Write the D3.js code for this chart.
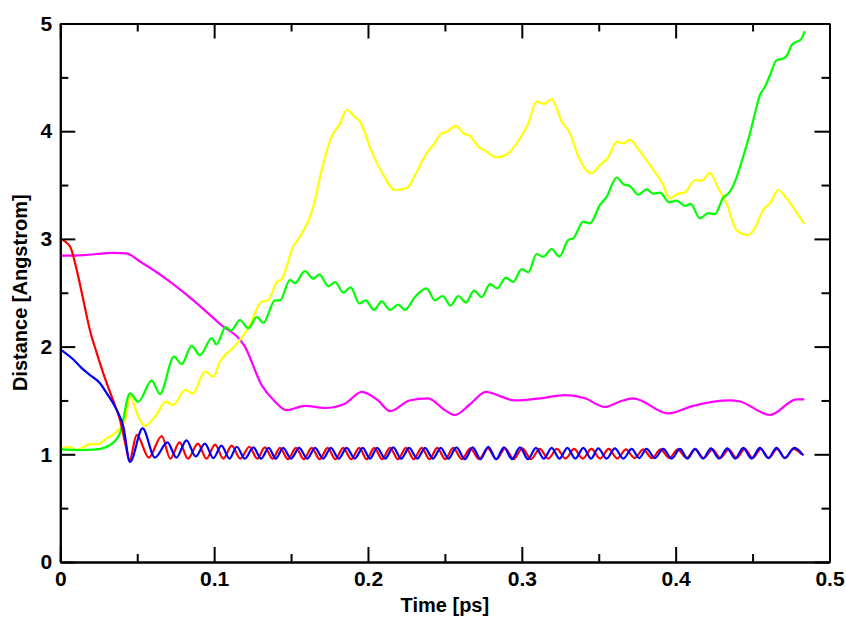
<!DOCTYPE html>
<html>
<head>
<meta charset="utf-8">
<script src="https://cdn.jsdelivr.net/npm/d3@7"></script>
<style>
  body { margin: 0; background: #fff; }
  svg { display: block; }
  text { font-family: "Liberation Sans", Arial, Helvetica, sans-serif; font-weight: bold; }
</style>
</head>
<body>
<script>
// tick values
var xMajor = [0, 0.1, 0.2, 0.3, 0.4, 0.5];
var xMinor = [0.05, 0.15, 0.25, 0.35, 0.45];
var yMajor = [0, 1, 2, 3, 4, 5];
var yMinor = [0.5, 1.5, 2.5, 3.5, 4.5];
var xTitle = "Time [ps]";
var yTitle = "Distance [Angstrom]";

// series: [time (ps), distance (Angstrom)]
var redSeries = [
  [0, 3.0], [0.0063, 2.93], [0.0107, 2.71], [0.015, 2.43], [0.0193, 2.15], [0.0237, 1.94],
  [0.028, 1.75], [0.0334, 1.535], [0.0388, 1.32], [0.0427, 1.07], [0.0449, 0.94],
  [0.0497, 1.18], [0.0575, 0.97], [0.0659, 1.17], [0.0715, 0.96], [0.0775, 1.11], [0.083, 0.96],
  [0.0895, 1.10], [0.095, 0.96], [0.1006, 1.09], [0.106, 0.96], [0.1114, 1.08], [0.117, 0.96],
  [0.1229, 1.07], [0.128, 0.96], [0.133, 1.065], [0.138, 0.96], [0.1428, 1.06], [0.148, 0.955],
  [0.1532, 1.06], [0.1583, 0.955], [0.1634, 1.06], [0.1686, 0.955], [0.1738, 1.06], [0.1788, 0.955],
  [0.1839, 1.06], [0.1891, 0.955], [0.1943, 1.06], [0.1992, 0.955], [0.2041, 1.06], [0.2092, 0.955],
  [0.2143, 1.06], [0.2195, 0.955], [0.2247, 1.06], [0.2298, 0.955], [0.2349, 1.06], [0.24, 0.955],
  [0.245, 1.06], [0.2502, 0.955], [0.2554, 1.06], [0.261, 0.955], [0.2666, 1.055], [0.2722, 0.955],
  [0.2779, 1.055], [0.2835, 0.955], [0.2891, 1.055], [0.2947, 0.955], [0.3003, 1.055], [0.306, 0.955],
  [0.3116, 1.05], [0.3172, 0.96], [0.3228, 1.05], [0.3284, 0.96], [0.334, 1.05], [0.3396, 0.96],
  [0.3452, 1.05], [0.3509, 0.96], [0.3565, 1.05], [0.3621, 0.96], [0.3677, 1.045], [0.3733, 0.965],
  [0.3789, 1.045], [0.3846, 0.965], [0.3902, 1.045], [0.3958, 0.965], [0.4014, 1.045], [0.407, 0.965],
  [0.4126, 1.045], [0.4183, 0.965], [0.4239, 1.045], [0.4291, 0.965], [0.4344, 1.045], [0.4396, 0.965],
  [0.4449, 1.05], [0.4501, 0.965], [0.4554, 1.05], [0.4606, 0.965], [0.4659, 1.05], [0.4711, 0.965],
  [0.4764, 1.05], [0.4819, 1.0]
];
var blueSeries = [
  [0, 1.975], [0.0085, 1.88], [0.0139, 1.80], [0.0193, 1.736], [0.0258, 1.66], [0.0302, 1.566],
  [0.0367, 1.41], [0.041, 1.256], [0.0453, 0.93],
  [0.0535, 1.24], [0.0615, 0.97], [0.0696, 1.11], [0.0755, 0.97], [0.082, 1.13], [0.088, 0.98],
  [0.094, 1.10], [0.0995, 0.965], [0.1047, 1.08], [0.11, 0.96], [0.1147, 1.07], [0.12, 0.96],
  [0.1255, 1.065], [0.1305, 0.96], [0.1355, 1.06], [0.14, 0.96], [0.1449, 1.06], [0.15, 0.96],
  [0.1553, 1.06], [0.1605, 0.96], [0.1656, 1.06], [0.1708, 0.96], [0.1759, 1.06], [0.181, 0.96],
  [0.1862, 1.06], [0.1914, 0.96], [0.1966, 1.06], [0.2013, 0.96], [0.206, 1.06], [0.2112, 0.96],
  [0.2164, 1.065], [0.2216, 0.96], [0.2268, 1.06], [0.232, 0.96], [0.2371, 1.06], [0.2422, 0.96],
  [0.2473, 1.06], [0.2523, 0.96], [0.2575, 1.065], [0.263, 0.955], [0.2681, 1.065], [0.2732, 0.955],
  [0.2782, 1.07], [0.2833, 0.955], [0.2884, 1.065], [0.2936, 0.955], [0.2988, 1.065], [0.304, 0.955],
  [0.3092, 1.06], [0.3143, 0.96], [0.3194, 1.06], [0.3245, 0.96], [0.3296, 1.06], [0.3348, 0.96],
  [0.34, 1.06], [0.345, 0.96], [0.3497, 1.055], [0.3551, 0.96], [0.3605, 1.055], [0.366, 0.96],
  [0.3714, 1.05], [0.3763, 0.965], [0.3811, 1.05], [0.3865, 0.965], [0.3919, 1.05], [0.3974, 0.96],
  [0.4028, 1.05], [0.4077, 0.96], [0.4126, 1.05], [0.4178, 0.96], [0.4229, 1.055], [0.4282, 0.96],
  [0.4335, 1.055], [0.4387, 0.96], [0.4439, 1.06], [0.4493, 0.96], [0.4548, 1.06], [0.4602, 0.965],
  [0.4656, 1.06], [0.471, 0.965], [0.4772, 1.06], [0.483, 0.99]
];
var magentaSeries = [
  [0, 2.845], [0.015, 2.85], [0.0345, 2.87], [0.043, 2.865], [0.0518, 2.79], [0.0692, 2.625],
  [0.0865, 2.43], [0.1038, 2.21], [0.12, 2.0], [0.131, 1.64], [0.1395, 1.49], [0.147, 1.41],
  [0.159, 1.45], [0.172, 1.43], [0.185, 1.47], [0.196, 1.58], [0.2065, 1.50], [0.2145, 1.40],
  [0.227, 1.50], [0.239, 1.52], [0.25, 1.41], [0.2565, 1.365], [0.266, 1.46], [0.2767, 1.58],
  [0.2858, 1.54], [0.2955, 1.50], [0.312, 1.52], [0.328, 1.55], [0.341, 1.52], [0.354, 1.44],
  [0.3638, 1.49], [0.3724, 1.52], [0.3952, 1.38], [0.4114, 1.45], [0.4353, 1.50], [0.4418, 1.49],
  [0.4613, 1.365], [0.4786, 1.51], [0.4836, 1.51]
];
var greenSeries = [
  [0, 1.046], [0.0128, 1.04], [0.0237, 1.046], [0.0323, 1.086], [0.0388, 1.195], [0.0453, 1.566],
  [0.0507, 1.488], [0.0594, 1.684], [0.0648, 1.56], [0.0739, 1.906], [0.0789, 1.838], [0.0854, 2.006],
  [0.0908, 1.92], [0.0985, 2.08], [0.1015, 2.02], [0.1075, 2.18], [0.111, 2.15], [0.1168, 2.247],
  [0.1222, 2.17], [0.1277, 2.275], [0.132, 2.22], [0.1395, 2.43], [0.1428, 2.43], [0.1493, 2.62],
  [0.1525, 2.59], [0.159, 2.70], [0.1645, 2.63], [0.1684, 2.67], [0.1742, 2.56], [0.1786, 2.60],
  [0.184, 2.50], [0.1888, 2.55], [0.1944, 2.40], [0.1985, 2.43], [0.2039, 2.34], [0.2089, 2.42],
  [0.2143, 2.34], [0.2197, 2.39], [0.224, 2.34], [0.2305, 2.46], [0.2381, 2.54], [0.2435, 2.43],
  [0.2485, 2.47], [0.2537, 2.38], [0.2587, 2.47], [0.2637, 2.41], [0.2689, 2.52], [0.2739, 2.46],
  [0.2793, 2.58], [0.284, 2.54], [0.2897, 2.64], [0.2944, 2.60], [0.2999, 2.72], [0.3042, 2.69],
  [0.3096, 2.86], [0.3139, 2.835], [0.3194, 2.906], [0.3244, 2.835], [0.3302, 2.99], [0.3334, 3.005],
  [0.34, 3.16], [0.3443, 3.145], [0.3508, 3.315], [0.3551, 3.39], [0.3616, 3.57], [0.3659, 3.51],
  [0.3703, 3.49], [0.3757, 3.41], [0.3811, 3.46], [0.3855, 3.42], [0.3898, 3.43], [0.3958, 3.34],
  [0.4006, 3.355], [0.406, 3.306], [0.4097, 3.325], [0.4158, 3.19], [0.4212, 3.24], [0.4255, 3.23],
  [0.431, 3.385], [0.4342, 3.42], [0.4385, 3.53], [0.4439, 3.765], [0.4483, 3.98], [0.4515, 4.165],
  [0.4548, 4.336], [0.458, 4.41], [0.4613, 4.52], [0.4656, 4.66], [0.47, 4.675], [0.4725, 4.707],
  [0.4754, 4.80], [0.4786, 4.83], [0.4812, 4.85], [0.484, 4.93]
];
var yellowSeries = [
  [0, 1.055], [0.0063, 1.07], [0.0107, 1.04], [0.0193, 1.095], [0.0247, 1.095], [0.0302, 1.148],
  [0.0367, 1.21], [0.0421, 1.318], [0.0453, 1.535], [0.0507, 1.35], [0.055, 1.263], [0.0616, 1.35],
  [0.0687, 1.49], [0.0735, 1.458], [0.081, 1.597], [0.0861, 1.566], [0.094, 1.767], [0.0994, 1.72],
  [0.1038, 1.86], [0.113, 2.0], [0.1222, 2.17], [0.1309, 2.417], [0.1352, 2.43], [0.1406, 2.60],
  [0.1439, 2.625], [0.1514, 2.93], [0.1558, 3.02], [0.1645, 3.30], [0.1699, 3.64], [0.1764, 3.95],
  [0.1818, 4.07], [0.1862, 4.197], [0.1916, 4.13], [0.1948, 4.09], [0.2024, 3.81], [0.21, 3.593],
  [0.2176, 3.454], [0.2251, 3.47], [0.2317, 3.624], [0.2381, 3.795], [0.2424, 3.87], [0.2479, 3.98],
  [0.2512, 3.996], [0.2572, 4.05], [0.262, 3.98], [0.2663, 3.955], [0.2717, 3.857], [0.2761, 3.82],
  [0.2836, 3.758], [0.2912, 3.795], [0.2988, 3.934], [0.3042, 4.073], [0.3096, 4.274], [0.3144, 4.253],
  [0.3194, 4.297], [0.3259, 4.09], [0.3313, 3.98], [0.3367, 3.765], [0.3454, 3.61], [0.3508, 3.686],
  [0.3562, 3.758], [0.3616, 3.90], [0.3659, 3.887], [0.3703, 3.92], [0.3768, 3.81], [0.3855, 3.64],
  [0.3909, 3.53], [0.3963, 3.377], [0.4017, 3.42], [0.406, 3.43], [0.4125, 3.547], [0.4169, 3.54],
  [0.4223, 3.61], [0.4277, 3.47], [0.4331, 3.33], [0.4396, 3.08], [0.4472, 3.036], [0.4515, 3.10],
  [0.4569, 3.27], [0.4613, 3.33], [0.4667, 3.454], [0.4721, 3.377], [0.4775, 3.27], [0.4836, 3.14]
];

var seriesList = [
  { name: "magenta", values: magentaSeries, color: "#ff00ff" },
  { name: "yellow", values: yellowSeries, color: "#ffff00" },
  { name: "green", values: greenSeries, color: "#00ff00" },
  { name: "red", values: redSeries, color: "#ff0000" },
  { name: "blue", values: blueSeries, color: "#0000ff" }
];

var width = 846, height = 617;
var margin = { top: 23.5, right: 16.5, bottom: 55, left: 60.3 };
var w = width - margin.left - margin.right;
var h = height - margin.top - margin.bottom;

var svg = d3.select("body").append("svg")
  .attr("width", width)
  .attr("height", height);

var g = svg.append("g")
  .attr("transform", "translate(" + margin.left + "," + margin.top + ")");

var x = d3.scaleLinear().domain([0, 0.5]).range([0, w]);
var y = d3.scaleLinear().domain([0, 5]).range([h, 0]);

// data lines, clipped to the frame
g.append("clipPath").attr("id", "plot-clip")
  .append("rect").attr("width", w).attr("height", h);

var line = d3.line()
  .x(function(d) { return x(d[0]); })
  .y(function(d) { return y(d[1]); })
  .curve(d3.curveMonotoneX);

g.append("g").attr("clip-path", "url(#plot-clip)")
  .selectAll("path")
  .data(seriesList)
  .enter().append("path")
    .attr("fill", "none")
    .attr("stroke", function(d) { return d.color; })
    .attr("stroke-width", 2.2)
    .attr("stroke-linejoin", "round")
    .attr("d", function(d) { return line(d.values); });

// axes: ticks point inward on all four sides
function styleAxis(sel) {
  sel.selectAll("path.domain").attr("stroke", "#000").attr("stroke-width", 2);
  sel.selectAll(".tick line").attr("stroke", "#000").attr("stroke-width", 2);
  sel.selectAll(".tick text")
    .attr("fill", "#000")
    .style("font-size", "21px");
}

function addAxis(axis, ticks, size, dx, dy, fmt, pad) {
  var a = axis.tickValues(ticks).tickSize(-size).tickSizeOuter(0)
    .tickPadding(pad || 3)
    .tickFormat(fmt || "");
  var sel = g.append("g")
    .attr("transform", "translate(" + dx + "," + dy + ")")
    .call(a);
  styleAxis(sel);
  return sel;
}

addAxis(d3.axisBottom(x), xMajor, 15, 0, h,
  function(d) { return d === 0 ? "0" : d3.format(".1f")(d); }, 9);
addAxis(d3.axisBottom(x), xMinor, 8, 0, h);
addAxis(d3.axisTop(x), xMajor, 15, 0, 0);
addAxis(d3.axisTop(x), xMinor, 8, 0, 0);
addAxis(d3.axisLeft(y), yMajor, 15, 0, 0, d3.format("d"), 8);
addAxis(d3.axisLeft(y), yMinor, 8, 0, 0);
addAxis(d3.axisRight(y), yMajor, 15, w, 0);
addAxis(d3.axisRight(y), yMinor, 8, w, 0);

// axis titles
g.append("text")
  .attr("x", w / 2)
  .attr("y", h + 50)
  .attr("text-anchor", "middle")
  .style("font-size", "20px")
  .text(xTitle);

g.append("text")
  .attr("transform", "translate(" + (-33) + "," + (h / 2) + ") rotate(-90)")
  .attr("text-anchor", "middle")
  .style("font-size", "20px")
  .text(yTitle);
</script>
</body>
</html>
